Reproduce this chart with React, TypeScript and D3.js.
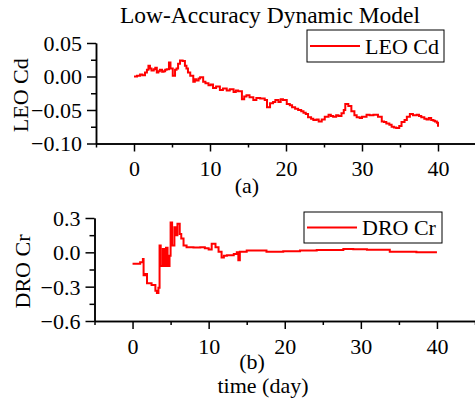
import React, { useEffect, useRef } from "react";
import * as d3 from "d3";

const leoDays = [0, 0.4, 0.8, 1.1, 1.45, 1.7, 1.9, 2.1, 2.3, 2.6, 2.8, 3.0, 3.2, 3.4, 3.7, 3.9, 4.1, 4.3, 4.6, 4.8, 5.1, 5.4, 5.6, 5.8, 6.05, 6.4, 6.7, 6.9, 7.1, 7.4, 7.8, 8.0, 8.2, 8.5, 8.7, 9.1, 9.4, 9.8, 10.1, 10.4, 10.8, 11.3, 11.7, 12.2, 12.6, 13.1, 13.4, 13.7, 14.2, 14.5, 14.8, 15.2, 15.7, 16.1, 16.6, 17.2, 17.5, 17.9, 18.3, 18.6, 19.0, 19.3, 19.6, 20.1, 20.5, 20.8, 21.2, 21.6, 22.0, 22.3, 22.6, 22.9, 23.3, 23.6, 24.0, 24.3, 24.7, 25.1, 25.6, 25.9, 26.2, 26.6, 26.9, 27.3, 27.6, 27.8, 28.2, 28.6, 29.0, 29.3, 29.7, 30.0, 30.6, 31.0, 31.5, 32.1, 32.6, 32.9, 33.2, 33.6, 33.9, 34.2, 34.5, 34.9, 35.2, 35.6, 35.9, 36.3, 36.7, 37.2, 37.5, 37.8, 38.2, 38.5, 38.8, 39.1, 39.4, 39.6, 39.85, 40.0];
const leoCd = [0.0, 0.001, 0.003, 0.002, 0.006, 0.010, 0.016, 0.012, 0.009, 0.011, 0.013, 0.006, 0.008, 0.010, 0.007, 0.008, 0.010, 0.011, 0.021, 0.012, 0.001, 0.010, 0.012, 0.019, 0.024, 0.023, 0.016, 0.012, 0.006, 0.001, -0.008, -0.004, -0.006, -0.003, -0.001, -0.008, -0.010, -0.013, -0.012, -0.017, -0.015, -0.020, -0.018, -0.021, -0.019, -0.023, -0.021, -0.022, -0.034, -0.030, -0.028, -0.031, -0.035, -0.032, -0.033, -0.035, -0.046, -0.040, -0.038, -0.035, -0.038, -0.034, -0.035, -0.041, -0.043, -0.046, -0.048, -0.050, -0.052, -0.054, -0.056, -0.061, -0.063, -0.065, -0.064, -0.067, -0.064, -0.060, -0.057, -0.059, -0.060, -0.058, -0.059, -0.055, -0.050, -0.041, -0.044, -0.052, -0.058, -0.061, -0.062, -0.060, -0.057, -0.058, -0.057, -0.060, -0.067, -0.068, -0.070, -0.072, -0.075, -0.076, -0.077, -0.074, -0.068, -0.065, -0.060, -0.056, -0.058, -0.057, -0.059, -0.061, -0.063, -0.064, -0.062, -0.065, -0.066, -0.067, -0.069, -0.075];

const droDays = [0, 0.57, 1.0, 1.36, 1.45, 1.7, 1.9, 2.5, 3.0, 3.2, 3.4, 3.55, 3.7, 3.98, 4.16, 4.4, 4.6, 4.86, 5.0, 5.2, 5.5, 5.7, 5.9, 6.2, 6.4, 6.7, 7.1, 8.0, 8.9, 9.5, 10.0, 10.4, 10.9, 11.3, 11.7, 12.0, 12.4, 13.3, 13.7, 13.9, 14.1, 15.0, 17.6, 19.8, 22.0, 24.2, 26.0, 27.7, 29.0, 30.8, 32.5, 33.8, 35.5, 37.3, 40.0];
const droCr = [-0.10, -0.10, -0.087, -0.058, -0.20, -0.19, -0.27, -0.285, -0.335, -0.355, -0.31, 0.06, -0.12, 0.03, -0.12, 0.04, -0.12, -0.03, 0.26, 0.06, 0.22, 0.15, 0.25, 0.16, 0.12, 0.06, 0.045, 0.042, 0.045, 0.035, 0.025, 0.075, 0.045, 0.005, -0.045, -0.03, -0.025, -0.015, 0.0, -0.07, 0.005, 0.015, 0.005, 0.01, 0.015, 0.02, 0.02, 0.03, 0.026, 0.022, 0.022, 0.005, 0.006, 0.0, 0.0];

const xMajorTicks = [0, 10, 20, 30, 40];
const xMinorTicks = [-5, 5, 15, 25, 35, 45];
const leoYMajor = [0.05, 0.0, -0.05, -0.1];
const leoYMinor = [0.025, -0.025, -0.075];
const droYMajor = [0.3, 0.0, -0.3, -0.6];
const droYMinor = [0.15, -0.15, -0.45];

const FONT = "'Liberation Serif', 'Times New Roman', serif";

export default function App() {
  const ref = useRef<SVGSVGElement | null>(null);

  useEffect(() => {
    const svg = d3.select(ref.current);
    svg.selectAll("*").remove();

    svg.append("text")
      .attr("x", 270).attr("y", 23)
      .attr("text-anchor", "middle")
      .attr("font-family", FONT).attr("font-size", 23.5)
      .text("Low-Accuracy Dynamic Model");

    const panels = [
      {
        days: leoDays, vals: leoCd, xr: [96, 476], yd: [-0.1, 0.05], yr: [143.5, 43],
        yMajor: leoYMajor, yMinor: leoYMinor, fmt: d3.format(".2f"),
        ylabel: "LEO Cd", ylx: 28, sub: "(a)", subX: 247, subY: 193,
        legend: { x: 307, y: 30, w: 137, h: 32, name: "LEO Cd" },
      },
      {
        days: droDays, vals: droCr, xr: [94.5, 475], yd: [-0.6, 0.3], yr: [321, 218],
        yMajor: droYMajor, yMinor: droYMinor, fmt: d3.format(".1f"),
        ylabel: "DRO Cr", ylx: 30, sub: "(b)", subX: 252, subY: 369,
        legend: { x: 304, y: 212, w: 138, h: 31, name: "DRO Cr" },
      },
    ];

    panels.forEach((p) => {
      const x = d3.scaleLinear().domain([-5, 45]).range(p.xr);
      const y = d3.scaleLinear().domain(p.yd).range(p.yr);
      const g = svg.append("g");
      const y0 = p.yr[0];
      const x0 = p.xr[0];

      const xa = g.append("g").attr("transform", `translate(0,${y0})`)
        .call(d3.axisBottom(x).tickValues(xMajorTicks).tickSize(8).tickSizeOuter(0).tickPadding(9).tickFormat(d3.format("d")));
      g.append("g").attr("transform", `translate(0,${y0})`)
        .call(d3.axisBottom(x).tickValues(xMinorTicks).tickSize(4).tickSizeOuter(0).tickFormat(() => ""));

      const ya = g.append("g").attr("transform", `translate(${x0},0)`)
        .call(d3.axisLeft(y).tickValues(p.yMajor).tickSize(9).tickSizeOuter(0).tickPadding(5).tickFormat(p.fmt as any));
      g.append("g").attr("transform", `translate(${x0},0)`)
        .call(d3.axisLeft(y).tickValues(p.yMinor).tickSize(5).tickSizeOuter(0).tickFormat(() => ""));

      g.selectAll("g").attr("font-family", FONT).attr("font-size", 22);
      g.selectAll(".domain").attr("stroke", "#000").attr("stroke-width", 1.5);
      g.selectAll(".tick line").attr("stroke", "#000").attr("stroke-width", 1.5);
      g.selectAll(".tick text").attr("font-family", FONT).attr("font-size", 22).attr("fill", "#000");
      xa.selectAll(".tick text").attr("dy", "0.71em");
      ya.selectAll(".tick text").attr("dy", "0.34em");

      const line = d3.line<number>()
        .x((_, i) => x(p.days[i]))
        .y((d) => y(d))
        .curve(d3.curveStepAfter);
      g.append("path").attr("d", line(p.vals) as string)
        .attr("fill", "none").attr("stroke", "#ff0000").attr("stroke-width", 2);

      const ym = (p.yr[0] + p.yr[1]) / 2 + 2;
      g.append("text")
        .attr("transform", `translate(${p.ylx},${ym}) rotate(-90)`)
        .attr("text-anchor", "middle")
        .attr("font-family", FONT).attr("font-size", 22)
        .text(p.ylabel);

      g.append("text").attr("x", p.subX).attr("y", p.subY)
        .attr("text-anchor", "middle")
        .attr("font-family", FONT).attr("font-size", 22)
        .text(p.sub);

      const L = p.legend;
      g.append("rect").attr("x", L.x).attr("y", L.y).attr("width", L.w).attr("height", L.h)
        .attr("fill", "#fff").attr("stroke", "#000").attr("stroke-width", 1);
      g.append("line").attr("x1", L.x + 3).attr("x2", L.x + 53)
        .attr("y1", L.y + L.h / 2).attr("y2", L.y + L.h / 2)
        .attr("stroke", "#ff0000").attr("stroke-width", 2);
      g.append("text").attr("x", L.x + 58).attr("y", L.y + L.h / 2 + 7.5)
        .attr("font-family", FONT).attr("font-size", 22)
        .text(L.name);
    });

    svg.append("text")
      .attr("x", 263).attr("y", 393)
      .attr("text-anchor", "middle")
      .attr("font-family", FONT).attr("font-size", 22)
      .text("time (day)");
  }, []);

  return (
    <svg
      ref={ref}
      width={475}
      height={399}
      style={{ position: "absolute", left: 0, top: 0, background: "#fff" }}
    />
  );
}
